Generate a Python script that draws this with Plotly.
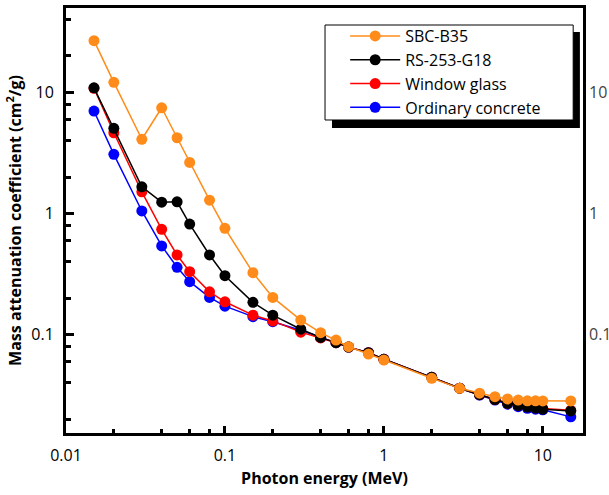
import plotly.graph_objects as go

energy = [0.015, 0.02, 0.03, 0.04, 0.05, 0.06, 0.08, 0.1, 0.15, 0.2, 0.3, 0.4, 0.5,
          0.6, 0.8, 1, 2, 3, 4, 5, 6, 7, 8, 9, 10, 15]

sbc_b35 = [26.7, 12.1, 4.1, 7.46, 4.22, 2.64, 1.29, 0.755, 0.325, 0.203, 0.132, 0.104, 0.0904,
           0.0796, 0.0693, 0.0618, 0.0437, 0.0361, 0.0329, 0.0308, 0.0295, 0.0289, 0.0285, 0.0285, 0.0284, 0.0284]
rs_253_g18 = [10.9, 5.05, 1.66, 1.24, 1.25, 0.819, 0.455, 0.307, 0.185, 0.145, 0.111, 0.095, 0.086,
              0.079, 0.0711, 0.0627, 0.0445, 0.0362, 0.0320, 0.0292, 0.0272, 0.0261, 0.0253, 0.0248, 0.0243, 0.0235]
window_glass = [10.8, 4.64, 1.51, 0.741, 0.455, 0.331, 0.226, 0.187, 0.145, 0.13, 0.105, 0.094, 0.086,
                0.079, 0.0711, 0.0627, 0.0445, 0.0362, 0.0320, 0.0292, 0.0272, 0.0262, 0.0255, 0.025, 0.0246, 0.0238]
ordinary_concrete = [7.01, 3.08, 1.05, 0.54, 0.36, 0.274, 0.203, 0.172, 0.141, 0.128, 0.109, 0.095, 0.086,
                     0.079, 0.0711, 0.0627, 0.0445, 0.0362, 0.0318, 0.0289, 0.0267, 0.0255, 0.0247, 0.0243, 0.024, 0.021]

series_names = ["SBC-B35", "RS-253-G18", "Window glass", "Ordinary concrete"]
series_values = [sbc_b35, rs_253_g18, window_glass, ordinary_concrete]
series_colors = ["#FF8C1A", "#000000", "#FF0000", "#0000FF"]

x_major = [0.01, 0.1, 1, 10]
x_major_text = ["0.01", "0.1", "1", "10"]
x_minor = [m * d for d in (0.01, 0.1, 1) for m in (2, 4, 6, 8)]
y_major = [0.1, 1, 10]
y_major_text = ["0.1", "1", "10"]
y_minor = [m * d for d in (0.01, 0.1, 1, 10) for m in (2, 4, 6, 8)]

FONT = "Open Sans"

fig = go.Figure()
# draw in reverse so orange ends on top
for name, vals, col in reversed(list(zip(series_names, series_values, series_colors))):
    fig.add_trace(go.Scatter(
        x=energy, y=vals, name=name, mode="lines+markers",
        line=dict(color=col, width=1.5),
        marker=dict(color=col, size=11, line=dict(width=0)),
    ))

# invisible companion trace so the mirrored right-hand axis is drawn
fig.add_trace(go.Scatter(
    x=energy, y=sbc_b35, yaxis="y2", mode="markers",
    marker=dict(opacity=0), showlegend=False, hoverinfo="skip",
))

fig.update_layout(
    width=609, height=495,
    margin=dict(l=66, r=26, t=8, b=62, autoexpand=False),
    paper_bgcolor="white", plot_bgcolor="white",
    font=dict(family=FONT, size=16, color="black"),
    showlegend=True,
    legend=dict(
        x=0.54, y=0.974, xanchor="left", yanchor="top",
        bgcolor="rgba(0,0,0,0)", borderwidth=0,
        traceorder="reversed",
        font=dict(family=FONT, size=16, color="black"),
        itemwidth=50, tracegroupgap=0,
    ),
    xaxis=dict(
        type="log", range=[-2, 1.253], automargin=False,
        showline=True, linewidth=3, linecolor="black", mirror=True,
        showgrid=False, zeroline=False,
        tickmode="array", tickvals=x_major, ticktext=x_major_text,
        ticks="inside", ticklen=7, tickwidth=3, tickcolor="black",
        ticklabelstandoff=6,
        minor=dict(tickmode="array", tickvals=x_minor, ticks="inside", ticklen=4,
                   tickwidth=3, tickcolor="black", showgrid=False),
        title=dict(text="<b>Photon energy (MeV)</b>", font=dict(size=16), standoff=8),
    ),
    yaxis=dict(
        type="log", range=[-1.811, 1.696], automargin=False,
        showline=True, linewidth=3, linecolor="black", mirror=True,
        showgrid=False, zeroline=False,
        tickmode="array", tickvals=y_major, ticktext=y_major_text,
        ticks="inside", ticklen=8, tickwidth=3, tickcolor="black",
        ticklabelstandoff=6,
        minor=dict(tickmode="array", tickvals=y_minor, ticks="inside", ticklen=5,
                   tickwidth=3, tickcolor="black", showgrid=False),
        title=dict(text="<b>Mass attenuation coefficient (cm<sup>2</sup>/g)</b>",
                   font=dict(size=16), standoff=6),
    ),
    yaxis2=dict(
        type="log", overlaying="y", side="right", matches="y", automargin=False,
        showline=False, showgrid=False, zeroline=False,
        tickmode="array", tickvals=y_major, ticktext=y_major_text,
        ticks="", tickfont=dict(color="#444444", size=16),
        ticklabelstandoff=5,
    ),
    shapes=[
        dict(type="rect", xref="paper", yref="paper",
             x0=0.5145, x1=0.994, y0=0.7176, y1=0.9435,
             fillcolor="black", line=dict(width=0), layer="above"),
        dict(type="rect", xref="paper", yref="paper",
             x0=0.501, x1=0.981, y0=0.7365, y1=0.96,
             fillcolor="white", line=dict(color="black", width=1), layer="above"),
    ],
)

fig.write_html("out.html")
